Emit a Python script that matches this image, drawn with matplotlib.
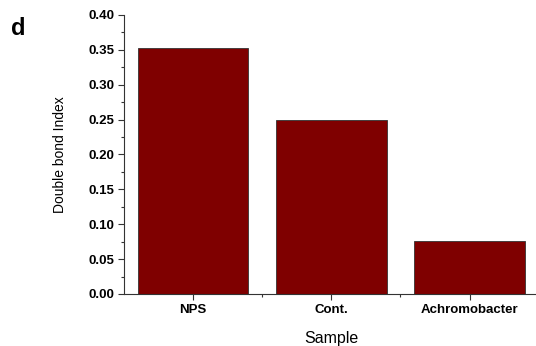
import matplotlib.pyplot as plt
from matplotlib.ticker import MultipleLocator, FixedLocator

samples = ['NPS', 'Cont.', 'Achromobacter']
dbi = [0.352, 0.250, 0.076]

plt.rcParams['font.family'] = ['Liberation Sans', 'DejaVu Sans']

fig = plt.figure(figsize=(5.36, 3.46), dpi=100)
ax = fig.add_axes([0.2313, 0.1503, 0.7738, 0.8064])

x = list(range(len(samples)))
ax.bar(x, dbi, width=0.8, color='#7f0000', edgecolor='#333333', linewidth=0.6)

ax.set_xlim(-0.5, 2.5)
ax.set_ylim(0, 0.40)
ax.yaxis.set_major_locator(MultipleLocator(0.05))
ax.yaxis.set_minor_locator(MultipleLocator(0.025))
ax.set_xticks(x)
ax.set_xticklabels(samples, fontweight='bold', fontsize=9.5)
ax.xaxis.set_minor_locator(FixedLocator([0.5, 1.5]))
ax.set_yticklabels(['%.2f' % v for v in ax.get_yticks()], fontweight='bold', fontsize=9.5)

ax.spines['top'].set_visible(False)
ax.spines['right'].set_visible(False)
for s in ['left', 'bottom']:
    ax.spines[s].set_color('#333333')
    ax.spines[s].set_linewidth(0.8)
ax.tick_params(which='major', direction='out', length=4, width=0.8, color='#333333', pad=3)
ax.tick_params(which='minor', direction='out', length=2.5, width=0.8, color='#333333')

ax.set_ylabel('Double bond Index', fontsize=10, labelpad=15)
ax.set_xlabel('Sample', fontsize=11.5, labelpad=11)

fig.text(0.02, 0.9, 'd', fontsize=17, fontweight='bold')

fig.savefig('out.png', dpi=100)
